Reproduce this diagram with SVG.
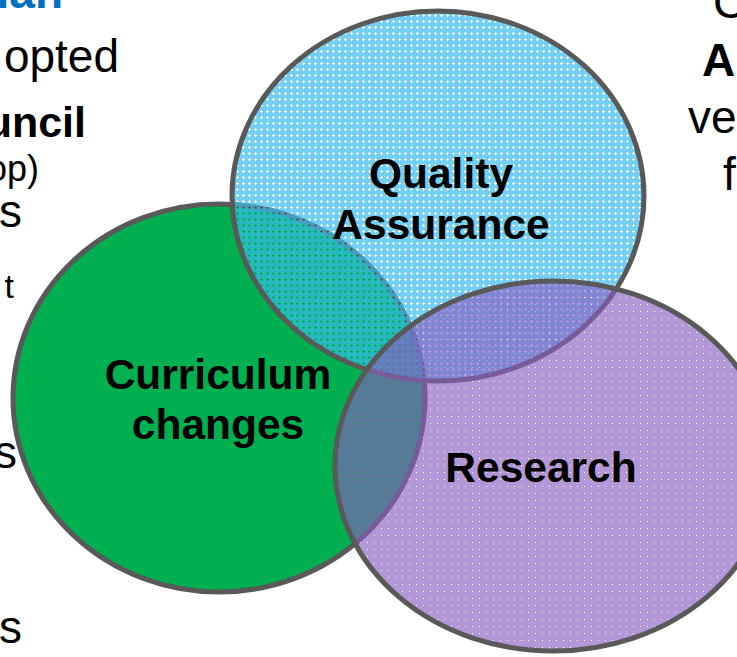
<svg xmlns="http://www.w3.org/2000/svg" width="737" height="657" viewBox="0 0 737 657">
<defs>
<pattern id="pBlue" patternUnits="userSpaceOnUse" width="6" height="6">
<path d="M0 0h6v6h-6z M3 2h1v1h1v1h-1v1h-1v-1h-1v-1h1z" fill="#38BDF0" fill-opacity="0.7" fill-rule="evenodd"/>
</pattern>
<pattern id="pPurple" patternUnits="userSpaceOnUse" width="7" height="7">
<path d="M0 0h7v7h-7z M3 3h1v1h-1z" fill="#8A5CC0" fill-opacity="0.64" fill-rule="evenodd"/>
</pattern>
</defs>
<style>
.circ{stroke:#595959;stroke-width:5}
.lbl{font-family:"Liberation Sans",Arial,sans-serif;font-weight:bold;font-size:42.5px;fill:#000;text-anchor:middle}
.side{font-family:"Liberation Sans",Arial,sans-serif;font-size:46px;fill:#000}
.b{font-weight:bold}
</style>
<g id="side-text">
<text class="side b" x="63" y="8" text-anchor="end" style="fill:#0070C0">lan</text>
<text class="side" x="119" y="72" text-anchor="end">opted</text>
<text class="side b" x="86" y="137" text-anchor="end" style="font-size:43px">uncil</text>
<text class="side" x="39" y="181" text-anchor="end" style="font-size:36px">op)</text>
<text class="side" x="22" y="227" text-anchor="end">s</text>
<text class="side" x="14" y="298" text-anchor="end" style="font-size:34px">t</text>
<text class="side" x="17" y="468" text-anchor="end">s</text>
<text class="side" x="22" y="643" text-anchor="end">s</text>
<text class="side" x="713" y="18">C</text>
<text class="side b" x="702" y="76">A</text>
<text class="side" x="688" y="133">ve</text>
<text class="side" x="723" y="190">f</text>
</g>
<g id="curriculum">
<ellipse class="circ" cx="219" cy="398" rx="206" ry="194" fill="#00B050"/>
</g>
<g id="quality">
<ellipse class="circ" cx="438" cy="196" rx="206" ry="185" fill="url(#pBlue)"/>
</g>
<g id="research">
<ellipse class="circ" cx="553" cy="466" rx="218" ry="185" fill="url(#pPurple)"/>
</g>
<g id="labels">
<text class="lbl" x="441" y="188">Quality</text>
<text class="lbl" x="441" y="239">Assurance</text>
<text class="lbl" x="218" y="389">Curriculum</text>
<text class="lbl" x="218" y="439">changes</text>
<text class="lbl" x="541" y="482">Research</text>
</g>
</svg>
